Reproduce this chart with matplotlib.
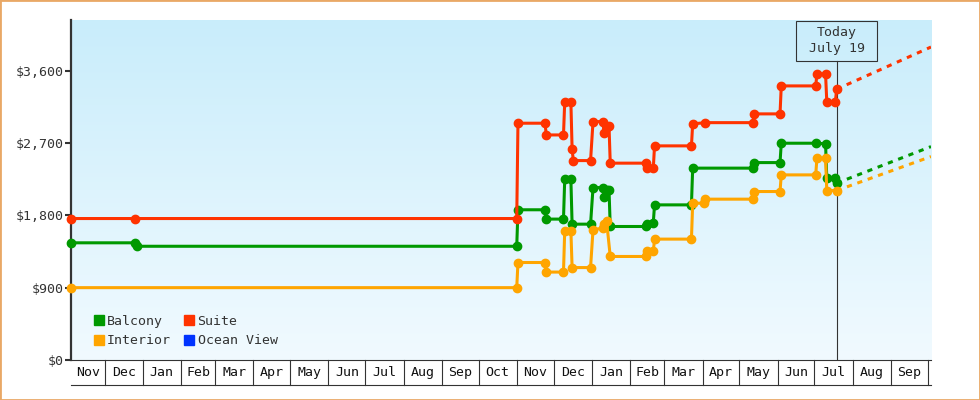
import numpy as np
import pandas as pd
import matplotlib
matplotlib.use("Agg")
from matplotlib import pyplot as plt
from matplotlib.patches import Rectangle
from matplotlib.lines import Line2D
from matplotlib.colors import LinearSegmentedColormap
import matplotlib.ticker as mticker

plt.rcParams['font.family'] = ['DejaVu Sans Mono']

# cabin price history (date, price)
balcony_dates = ['2013-11-04', '2013-12-26', '2013-12-27', '2014-11-01', '2014-11-02',
                 '2014-11-24', '2014-11-25', '2014-12-09', '2014-12-10', '2014-12-15',
                 '2014-12-16', '2014-12-31', '2015-01-02', '2015-01-10', '2015-01-11',
                 '2015-01-13', '2015-01-15', '2015-01-16', '2015-02-14', '2015-02-15',
                 '2015-02-20', '2015-02-21', '2015-03-23', '2015-03-24', '2015-05-12',
                 '2015-05-13', '2015-06-03', '2015-06-04', '2015-07-02', '2015-07-10',
                 '2015-07-11', '2015-07-18', '2015-07-19']
balcony_prices = [1458, 1458, 1415, 1415, 1869,
                  1869, 1753, 1753, 2250, 2250,
                  1690, 1690, 2145, 2145, 2033,
                  2117, 2117, 1661, 1661, 1690,
                  1710, 1930, 1930, 2387, 2387,
                  2456, 2456, 2697, 2697, 2690,
                  2262, 2262, 2200]

interior_dates = ['2013-11-04', '2014-11-01', '2014-11-02', '2014-11-24', '2014-11-25',
                  '2014-12-09', '2014-12-10', '2014-12-15', '2014-12-16', '2014-12-31',
                  '2015-01-02', '2015-01-10', '2015-01-11', '2015-01-13', '2015-01-16',
                  '2015-02-14', '2015-02-15', '2015-02-20', '2015-02-21', '2015-03-23',
                  '2015-03-24', '2015-04-02', '2015-04-03', '2015-05-12', '2015-05-13',
                  '2015-06-03', '2015-06-04', '2015-07-02', '2015-07-03', '2015-07-10',
                  '2015-07-11', '2015-07-19']
interior_prices = [900, 900, 1213, 1213, 1094,
                   1094, 1611, 1611, 1150, 1150,
                   1621, 1640, 1690, 1734, 1288,
                   1288, 1362, 1350, 1504, 1504,
                   1951, 1951, 2001, 2001, 2096,
                   2096, 2303, 2303, 2511, 2511,
                   2108, 2108]

suite_dates = ['2013-11-04', '2013-12-26', '2014-11-01', '2014-11-02', '2014-11-24',
               '2014-11-25', '2014-12-09', '2014-12-10', '2014-12-15', '2014-12-16',
               '2014-12-17', '2014-12-31', '2015-01-02', '2015-01-10', '2015-01-11',
               '2015-01-13', '2015-01-15', '2015-01-16', '2015-02-14', '2015-02-15',
               '2015-02-20', '2015-02-21', '2015-03-23', '2015-03-24', '2015-04-03',
               '2015-05-12', '2015-05-13', '2015-06-03', '2015-06-04', '2015-07-02',
               '2015-07-03', '2015-07-10', '2015-07-11', '2015-07-18', '2015-07-19']
suite_prices = [1760, 1760, 1760, 2946, 2946,
                2800, 2800, 3214, 3214, 2623,
                2481, 2481, 2966, 2966, 2822,
                2900, 2912, 2449, 2449, 2387,
                2387, 2664, 2664, 2937, 2953,
                2953, 3062, 3062, 3410, 3410,
                3559, 3559, 3214, 3214, 3369]

ocean_dates = []
ocean_prices = []

# forecast end values
balcony_forecast = 2655
interior_forecast = 2531
suite_forecast = 3894

today = '2015-07-19'
today_label = 'Today\nJuly 19'
x_start = '2013-11-03 17:00'
x_end = '2015-10-03 17:00'
y_ticks = [0, 900, 1800, 2700, 3600]
y_max = 4230

colors = {'Balcony': '#009900', 'Interior': '#ffa500',
          'Suite': '#ff3300', 'Ocean View': '#0033ff'}
dark = '#333333'

fig = plt.figure(figsize=(9.8, 4), dpi=100)
pos = [71 / 980, 40 / 400, 860 / 980, 340 / 400]

# gradient background
bg = fig.add_axes(pos, zorder=0)
grad = LinearSegmentedColormap.from_list('bg', ['#c9edfb', '#f1faff'])
bg.imshow(np.linspace(0, 1, 256).reshape(-1, 1), cmap=grad, aspect='auto',
          extent=[0, 1, 0, 1])
bg.axis('off')

ax = fig.add_axes(pos, zorder=1)
ax.patch.set_alpha(0)

t0 = pd.Timestamp(x_start)
t1 = pd.Timestamp(x_end)
tt = pd.Timestamp(today)

series = [('Balcony', balcony_dates, balcony_prices, balcony_forecast),
          ('Interior', interior_dates, interior_prices, interior_forecast),
          ('Suite', suite_dates, suite_prices, suite_forecast)]

for name, d, p, fc in series:
    d = pd.to_datetime(d)
    ax.plot(d, p, color=colors[name], lw=2.2, marker='o', ms=6,
            clip_on=False, zorder=3)
    ax.plot([d[-1], t1], [p[-1], fc], color=colors[name], lw=2.2,
            linestyle=(0, (1.7, 1.9)), zorder=3)
ax.plot(pd.to_datetime(ocean_dates), ocean_prices, color=colors['Ocean View'])

ax.set_xlim(t0, t1)
ax.set_ylim(0, y_max)

# y axis
ax.set_yticks(y_ticks)
ax.yaxis.set_major_formatter(mticker.StrMethodFormatter('${x:,.0f}'))
ax.tick_params(axis='y', length=4.5, width=1.5, color=dark, labelcolor=dark,
               labelsize=9.5, pad=1)
ax.set_xticks([])
for s in ['top', 'right']:
    ax.spines[s].set_visible(False)
ax.spines['left'].set_color(dark)
ax.spines['left'].set_linewidth(1.6)
ax.spines['bottom'].set_color(dark)
ax.spines['bottom'].set_linewidth(0.8)

# month cells under the axis
xt = ax.get_xaxis_transform()
cell_y = -0.0735
months = pd.date_range(t0.normalize().replace(day=1), t1, freq='MS')
for i, m in enumerate(months):
    if m > t0:
        ax.plot([m, m], [0, cell_y], transform=xt, color=dark, lw=0.8,
                clip_on=False)
    a = max(m, t0)
    b = min(m + pd.offsets.MonthBegin(1), t1)
    if (b - a).days > 15:
        ax.text(a + (b - a) / 2, cell_y / 2, m.strftime('%b'), transform=xt,
                ha='center', va='center', fontsize=9.5, color='#111111')
ax.plot([t0, t1], [cell_y, cell_y], transform=xt, color=dark, lw=0.8,
        clip_on=False)

# today marker
box_w = pd.Timedelta(days=33)
box_bottom = (360 - 60.7) / 340
ax.plot([tt, tt], [0, box_bottom], transform=xt, color=dark, lw=0.8, zorder=2)
ax.add_patch(Rectangle((tt - box_w, box_bottom), 2 * box_w, 0.118,
                       transform=xt, facecolor='none', edgecolor=dark,
                       lw=0.8, clip_on=False, zorder=2))
ax.text(tt, box_bottom + 0.059, today_label, transform=xt, ha='center',
        va='center', fontsize=9.5, color=dark, linespacing=1.25)

# legend
names = ['Balcony', 'Interior', 'Suite', 'Ocean View']
handles = [Line2D([], [], marker='s', color=colors[n], linestyle='None',
                  markersize=7.5) for n in names]
leg = ax.legend(handles, names, ncol=2, loc='lower left',
                bbox_to_anchor=(0.026, 0.037), frameon=False, fontsize=9.5,
                handlelength=0.8, handletextpad=0.25, columnspacing=0.95,
                labelspacing=0.5, borderpad=0, borderaxespad=0)
for t in leg.get_texts():
    t.set_color(dark)

# outer border
fig.patches.append(Rectangle((0, 0), 1, 1, transform=fig.transFigure,
                             facecolor='none', edgecolor='#e9a866', lw=2))

fig.savefig('out.png', dpi=100)
